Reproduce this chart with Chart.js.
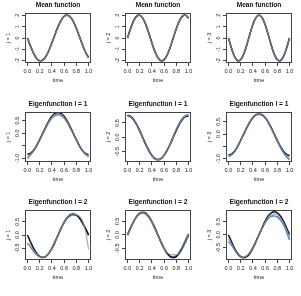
<!DOCTYPE html>
<html>
<head>
<meta charset="utf-8">
<script src="https://cdn.jsdelivr.net/npm/chart.js@4/dist/chart.umd.min.js"></script>
<style>
  body { margin: 0; background: #fff; }
  #grade { position: relative; width: 301px; height: 296px; }
  canvas { position: absolute; }
</style>
</head>
<body>
<div id="grade"></div>
<script>
// Eixo x: tempo de 0 a 1
const tempo = [0,0.05,0.1,0.15,0.2,0.25,0.3,0.35,0.4,0.45,0.5,0.55,0.6,0.65,0.7,0.75,0.8,0.85,0.9,0.95,1];
const ticksX = [0,0.2,0.4,0.6,0.8,1];
const rotulosX = ['0.0','0.2','0.4','0.6','0.8','1.0'];

// Ticks do eixo y (rótulo vazio = tick sem texto, como no R)
const ticksMedia = [-2,-1,0,1,2];
const rotulosMedia = ['-2','-1','0','1','2'];
const ticksAuto1 = [-1,-0.5,0,0.5];
const rotulosAuto1 = ['-1.0','','0.0','0.5'];
const ticksAuto2 = [-0.5,0,0.5];
const rotulosAuto2 = ['-0.5','0.0','0.5'];

// Função média (preto = real, azul = estimada, cinza = outra estimativa)
const mediaJ1Preto = [0,-0.71,-1.33,-1.78,-1.99,-1.93,-1.63,-1.10,-0.44,0.29,0.98,1.54,1.89,2.00,1.84,1.44,0.86,0.15,-0.58,-1.23,-1.71];
const mediaJ1Azul  = [0.02,-0.72,-1.36,-1.82,-2.02,-1.96,-1.65,-1.10,-0.42,0.31,1.00,1.57,1.93,2.03,1.87,1.46,0.86,0.14,-0.60,-1.26,-1.78];
const mediaJ1Cinza = [0,-0.70,-1.32,-1.77,-1.98,-1.93,-1.63,-1.11,-0.45,0.28,0.97,1.53,1.88,1.99,1.83,1.43,0.85,0.14,-0.59,-1.24,-1.74];

const mediaJ2Preto = [0,0.81,1.49,1.90,1.99,1.73,1.18,0.42,-0.42,-1.18,-1.73,-1.99,-1.90,-1.49,-0.81,0,0.81,1.49,1.90,1.99,1.73];
const mediaJ2Azul  = [-0.02,0.80,1.50,1.93,2.03,1.76,1.19,0.41,-0.45,-1.22,-1.78,-2.04,-1.93,-1.50,-0.80,0.03,0.85,1.53,1.95,2.05,1.78];
const mediaJ2Cinza = [0,0.80,1.48,1.90,1.99,1.74,1.18,0.42,-0.43,-1.19,-1.75,-2.00,-1.91,-1.49,-0.80,0.01,0.82,1.50,1.92,2.00,1.75];

const mediaJ3Preto = [0,-0.91,-1.62,-1.98,-1.90,-1.41,-0.62,0.31,1.18,1.78,2.00,1.78,1.18,0.31,-0.62,-1.41,-1.90,-1.98,-1.62,-0.91,0];
const mediaJ3Azul  = [0.02,-0.93,-1.66,-2.02,-1.93,-1.42,-0.61,0.33,1.21,1.82,2.04,1.81,1.19,0.30,-0.64,-1.44,-1.94,-2.02,-1.65,-0.92,0.02];
const mediaJ3Cinza = [0,-0.91,-1.63,-1.99,-1.91,-1.41,-0.62,0.31,1.19,1.79,2.01,1.79,1.18,0.31,-0.63,-1.42,-1.91,-1.99,-1.63,-0.91,0];

// Autofunção l = 1
const auto1J1Preto = [-0.83,-0.80,-0.68,-0.49,-0.25,0,0.25,0.49,0.67,0.78,0.81,0.78,0.67,0.49,0.25,0,-0.25,-0.49,-0.68,-0.80,-0.85];
const auto1J1Azul  = [-1.00,-0.86,-0.70,-0.50,-0.27,-0.03,0.21,0.43,0.60,0.70,0.73,0.70,0.60,0.43,0.21,-0.03,-0.27,-0.50,-0.70,-0.84,-0.93];
const auto1J1Cinza = [-0.93,-0.83,-0.69,-0.50,-0.26,-0.01,0.23,0.46,0.63,0.74,0.77,0.74,0.63,0.46,0.23,-0.01,-0.26,-0.49,-0.69,-0.82,-0.90];

const auto1J2Preto = [0.77,0.73,0.62,0.45,0.24,0,-0.24,-0.45,-0.62,-0.73,-0.77,-0.73,-0.62,-0.45,-0.24,0,0.24,0.45,0.62,0.72,0.74];
const auto1J2Azul  = [0.74,0.71,0.60,0.43,0.21,-0.03,-0.27,-0.48,-0.65,-0.76,-0.79,-0.75,-0.63,-0.45,-0.22,0.03,0.28,0.49,0.66,0.76,0.80];
const auto1J2Cinza = [0.76,0.72,0.61,0.44,0.23,-0.01,-0.25,-0.46,-0.63,-0.74,-0.78,-0.74,-0.62,-0.45,-0.23,0.01,0.26,0.47,0.64,0.74,0.77];

const auto1J3Preto = [-0.86,-0.82,-0.70,-0.50,-0.26,0,0.26,0.50,0.68,0.79,0.82,0.79,0.68,0.50,0.26,0,-0.26,-0.50,-0.70,-0.83,-0.88];
const auto1J3Azul  = [-0.92,-0.85,-0.71,-0.51,-0.26,0,0.25,0.48,0.66,0.77,0.80,0.77,0.66,0.48,0.24,-0.02,-0.29,-0.54,-0.76,-0.93,-1.05];
const auto1J3Cinza = [-0.89,-0.83,-0.70,-0.50,-0.26,0,0.26,0.49,0.67,0.78,0.81,0.78,0.67,0.49,0.25,-0.01,-0.27,-0.52,-0.73,-0.88,-0.97];

// Autofunção l = 2
const auto2J1Preto = [0,-0.26,-0.50,-0.69,-0.81,-0.85,-0.81,-0.69,-0.50,-0.26,0,0.26,0.49,0.66,0.77,0.80,0.76,0.64,0.46,0.24,0];
const auto2J1Azul  = [-0.30,-0.45,-0.62,-0.75,-0.83,-0.86,-0.82,-0.70,-0.52,-0.28,-0.02,0.24,0.47,0.64,0.73,0.75,0.74,0.66,0.48,0.25,-0.02];
const auto2J1Cinza = [-0.35,-0.42,-0.58,-0.72,-0.82,-0.85,-0.81,-0.69,-0.50,-0.26,0,0.26,0.49,0.67,0.76,0.78,0.77,0.72,0.55,0.15,-0.55];

const auto2J2Preto = [0,0.26,0.50,0.69,0.81,0.85,0.81,0.69,0.50,0.26,0,-0.26,-0.50,-0.69,-0.81,-0.85,-0.81,-0.69,-0.50,-0.26,0];
const auto2J2Azul  = [-0.02,0.24,0.48,0.67,0.78,0.81,0.77,0.65,0.46,0.22,-0.03,-0.29,-0.52,-0.70,-0.80,-0.82,-0.78,-0.64,-0.44,-0.19,0.05];
const auto2J2Cinza = [0,0.25,0.49,0.68,0.80,0.83,0.79,0.67,0.48,0.24,-0.01,-0.27,-0.50,-0.66,-0.73,-0.74,-0.74,-0.70,-0.52,-0.27,0.01];

const auto2J3Preto = [0,-0.27,-0.52,-0.72,-0.84,-0.88,-0.84,-0.72,-0.52,-0.27,0,0.27,0.52,0.72,0.84,0.88,0.84,0.72,0.52,0.27,0];
const auto2J3Azul  = [-0.25,-0.40,-0.58,-0.74,-0.84,-0.86,-0.81,-0.68,-0.48,-0.24,0,0.24,0.46,0.62,0.71,0.72,0.68,0.57,0.39,0.12,-0.20];
const auto2J3Cinza = [-0.15,-0.34,-0.55,-0.73,-0.84,-0.87,-0.82,-0.70,-0.50,-0.26,0,0.26,0.49,0.67,0.78,0.80,0.76,0.64,0.45,0.19,-0.10];

// Lista dos painéis (linha a linha)
const paineis = [
  { titulo: 'Mean function', rotuloY: 'j = 1', min: -2.2, max: 2.2, ticks: ticksMedia, rotulos: rotulosMedia, preto: mediaJ1Preto, azul: mediaJ1Azul, cinza: mediaJ1Cinza },
  { titulo: 'Mean function', rotuloY: 'j = 2', min: -2.2, max: 2.2, ticks: ticksMedia, rotulos: rotulosMedia, preto: mediaJ2Preto, azul: mediaJ2Azul, cinza: mediaJ2Cinza },
  { titulo: 'Mean function', rotuloY: 'j = 3', min: -2.2, max: 2.2, ticks: ticksMedia, rotulos: rotulosMedia, preto: mediaJ3Preto, azul: mediaJ3Azul, cinza: mediaJ3Cinza },
  { titulo: 'Eigenfunction l = 1', rotuloY: 'j = 1', min: -1.14, max: 0.84, ticks: ticksAuto1, rotulos: rotulosAuto1, preto: auto1J1Preto, azul: auto1J1Azul, cinza: auto1J1Cinza },
  { titulo: 'Eigenfunction l = 1', rotuloY: 'j = 2', min: -0.86, max: 0.88, ticks: ticksAuto2, rotulos: rotulosAuto2, preto: auto1J2Preto, azul: auto1J2Azul, cinza: auto1J2Cinza },
  { titulo: 'Eigenfunction l = 1', rotuloY: 'j = 3', min: -1.14, max: 0.9, ticks: ticksAuto1, rotulos: rotulosAuto1, preto: auto1J3Preto, azul: auto1J3Azul, cinza: auto1J3Cinza },
  { titulo: 'Eigenfunction l = 2', rotuloY: 'j = 1', min: -0.95, max: 0.95, ticks: ticksAuto2, rotulos: rotulosAuto2, preto: auto2J1Preto, azul: auto2J1Azul, cinza: auto2J1Cinza },
  { titulo: 'Eigenfunction l = 2', rotuloY: 'j = 2', min: -0.94, max: 0.93, ticks: ticksAuto2, rotulos: rotulosAuto2, preto: auto2J2Preto, azul: auto2J2Azul, cinza: auto2J2Cinza },
  { titulo: 'Eigenfunction l = 2', rotuloY: 'j = 3', min: -0.97, max: 0.95, ticks: ticksAuto2, rotulos: rotulosAuto2, preto: auto2J3Preto, azul: auto2J3Azul, cinza: auto2J3Cinza }
];

const fonte = '"Liberation Sans", Arial, sans-serif';
const corTexto = '#222';
const topoArea = 13;   // topo da caixa dentro do painel
const baseArea = 63;   // base da caixa dentro do painel

// Plugin que desenha caixa, título e rótulos no estilo do R base
const estiloR = {
  id: 'estiloR',
  afterDraw(chart) {
    const { ctx, chartArea: a } = chart;
    const p = chart.options.plugins.estiloR;
    const escalaY = chart.scales.y;
    ctx.save();
    ctx.strokeStyle = '#444';
    ctx.lineWidth = 1;
    ctx.strokeRect(a.left + 0.5, a.top + 0.5, a.right - a.left - 1, a.bottom - a.top - 1);

    // Título
    ctx.fillStyle = '#111';
    ctx.font = 'bold 6.6px ' + fonte;
    ctx.textAlign = 'center';
    ctx.textBaseline = 'middle';
    ctx.fillText(p.titulo, (a.left + a.right) / 2, a.top - 8);

    // Rótulo do eixo x
    ctx.fillStyle = corTexto;
    ctx.font = '5.5px ' + fonte;
    ctx.fillText('time', (a.left + a.right) / 2, a.bottom + 17);

    // Rótulos do eixo y (girados)
    p.ticks.forEach((v, i) => {
      const y = escalaY.getPixelForValue(v);
      ctx.save();
      ctx.translate(a.left - 5, y);
      ctx.rotate(-Math.PI / 2);
      ctx.textBaseline = 'bottom';
      ctx.fillText(p.rotulos[i], 0, 0);
      ctx.restore();
    });
    ctx.save();
    ctx.translate(a.left - 14, (a.top + a.bottom) / 2);
    ctx.rotate(-Math.PI / 2);
    ctx.textBaseline = 'bottom';
    ctx.fillText(p.rotuloY, 0, 0);
    ctx.restore();
    ctx.restore();
  }
};

const grade = document.getElementById('grade');
const larguraPainel = 301 / 3;
const alturaPainel = 296 / 3;

paineis.forEach((p, k) => {
  const col = k % 3;
  const lin = Math.floor(k / 3);
  const canvas = document.createElement('canvas');
  const x0 = Math.round(col * larguraPainel);
  const y0 = Math.round(lin * alturaPainel);
  const w = Math.round((col + 1) * larguraPainel) - x0;
  const h = Math.round((lin + 1) * alturaPainel) - y0;
  canvas.width = w;
  canvas.height = h;
  canvas.style.left = x0 + 'px';
  canvas.style.top = y0 + 'px';
  canvas.style.width = w + 'px';
  canvas.style.height = h + 'px';
  grade.appendChild(canvas);

  const serie = (dados, cor, largura) => ({
    data: tempo.map((t, i) => ({ x: t, y: dados[i] })),
    borderColor: cor,
    borderWidth: largura,
    pointRadius: 0,
    tension: 0.4,
    fill: false
  });

  new Chart(canvas, {
    type: 'line',
    data: {
      datasets: [
        serie(p.cinza, 'rgba(150,150,150,0.85)', 1.1),
        serie(p.preto, '#111', 1.5),
        serie(p.azul, '#4d8fd8', 1.6)
      ]
    },
    options: {
      responsive: false,
      animation: false,
      devicePixelRatio: 1,
      layout: { padding: { top: topoArea, right: w - 91, left: 0, bottom: 0 } },
      plugins: {
        legend: { display: false },
        tooltip: { enabled: false },
        estiloR: { titulo: p.titulo, rotuloY: p.rotuloY, ticks: p.ticks, rotulos: p.rotulos }
      },
      scales: {
        x: {
          type: 'linear',
          min: -0.04,
          max: 1.04,
          afterBuildTicks: s => { s.ticks = ticksX.map(v => ({ value: v })); },
          afterFit: s => { s.height = h - baseArea; },
          grid: { drawOnChartArea: false, drawTicks: true, tickLength: 3, color: '#444' },
          border: { display: false },
          ticks: {
            font: { size: 5.5, family: fonte },
            color: corTexto,
            padding: 2,
            maxRotation: 0,
            autoSkip: false,
            callback: (v, i) => rotulosX[i]
          }
        },
        y: {
          type: 'linear',
          min: p.min,
          max: p.max,
          afterBuildTicks: s => { s.ticks = p.ticks.map(v => ({ value: v })); },
          afterFit: s => { s.width = 25; },
          grid: { drawOnChartArea: false, drawTicks: true, tickLength: 3, color: '#444' },
          border: { display: false },
          ticks: { callback: () => '', autoSkip: false }
        }
      }
    },
    plugins: [estiloR]
  });
});
</script>
</body>
</html>
